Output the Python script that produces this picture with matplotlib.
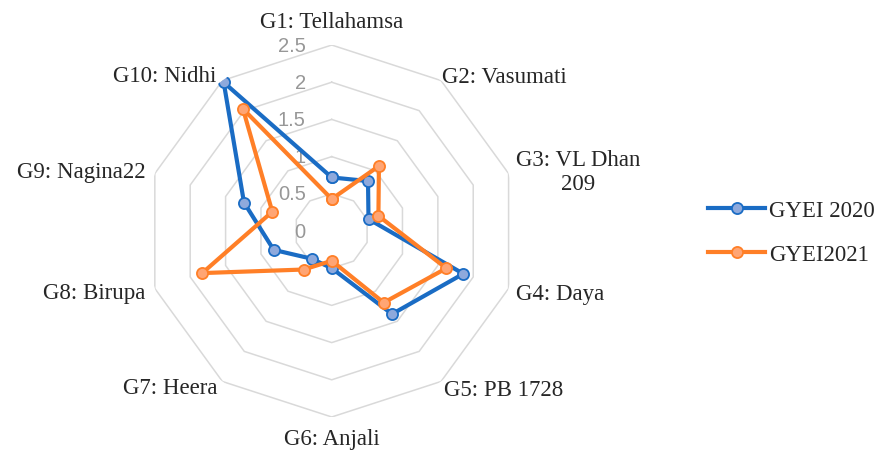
"""Radar chart of GYEI for ten rice genotypes, 2020 vs 2021."""

import matplotlib

matplotlib.use("Agg")

import matplotlib.pyplot as plt
import numpy as np

categories = [
    "G1: Tellahamsa",
    "G2: Vasumati",
    "G3: VL Dhan\n209",
    "G4: Daya",
    "G5: PB 1728",
    "G6: Anjali",
    "G7: Heera",
    "G8: Birupa",
    "G9: Nagina22",
    "G10: Nidhi",
]
gyei_2020 = [0.72, 0.83, 0.52, 1.86, 1.38, 0.50, 0.46, 0.82, 1.24, 2.47]
gyei_2021 = [0.43, 1.08, 0.66, 1.62, 1.19, 0.40, 0.64, 1.83, 0.84, 2.03]
radial_ticks = [0, 0.5, 1, 1.5, 2, 2.5]
radial_labels = ["0", "0.5", "1", "1.5", "2", "2.5"]

# label offsets (pixels) from the outer vertex, plus alignment
label_style = [
    (0, 24, "center"),
    (1, 4, "left"),
    (7, 2, "left"),
    (7, -5, "left"),
    (3, -8, "left"),
    (0, -22, "center"),
    (-5, -6, "right"),
    (-9, -4, "right"),
    (-9, 2, "right"),
    (-6, 5, "right"),
]

SERIF = "Liberation Serif"
BLUE = "#1a6cc4"
ORANGE = "#ff7f27"

fig = plt.figure(figsize=(8.8, 4.52), dpi=100)
ax = fig.add_axes([0.1656, 0.0752, 0.4227, 0.823], projection="polar")
ax.set_theta_zero_location("N")
ax.set_theta_direction(-1)
ax.set_ylim(0, 2.5)
ax.grid(False)
ax.set_xticks([])
ax.set_yticks([])
ax.spines["polar"].set_visible(False)

n = len(categories)
angles = np.linspace(0, 2 * np.pi, n, endpoint=False)
closed = np.append(angles, angles[0])

# decagonal gridlines
for level in radial_ticks[1:]:
    ax.plot(closed, [level] * (n + 1), color="#d9d9d9", lw=1.1, zorder=1)

for values, color, face, name in [
    (gyei_2020, BLUE, "#8ea9dc", "GYEI 2020"),
    (gyei_2021, ORANGE, "#ffa574", "GYEI2021"),
]:
    ax.plot(
        closed,
        values + values[:1],
        color=color,
        lw=3.0,
        marker="o",
        ms=8,
        mfc=face,
        mec=color,
        mew=1.3,
        label=name,
        zorder=3,
    )

for angle, text, (dx, dy, ha) in zip(angles, categories, label_style):
    ax.annotate(
        text,
        xy=(angle, 2.5),
        xytext=(dx, dy),
        textcoords="offset pixels",
        ha=ha,
        va="center",
        multialignment="center",
        fontsize=16.5,
        family=SERIF,
        color="#262626",
        annotation_clip=False,
    )

for value, text in zip(radial_ticks, radial_labels):
    ax.annotate(
        text,
        xy=(0, value),
        xytext=(-26, 0),
        textcoords="offset pixels",
        ha="right",
        va="center",
        fontsize=14.5,
        family="Liberation Sans",
        color="#979797",
        annotation_clip=False,
        zorder=2,
    )

legend = fig.legend(
    loc="center left",
    bbox_to_anchor=(0.8045, 0.4834),
    frameon=False,
    prop={"family": SERIF, "size": 16.5},
    handlelength=2.5,
    handletextpad=0.15,
    labelspacing=1.0,
    borderpad=0,
    borderaxespad=0,
)
for text in legend.get_texts():
    text.set_color("#262626")

fig.savefig("out.png", dpi=100)
